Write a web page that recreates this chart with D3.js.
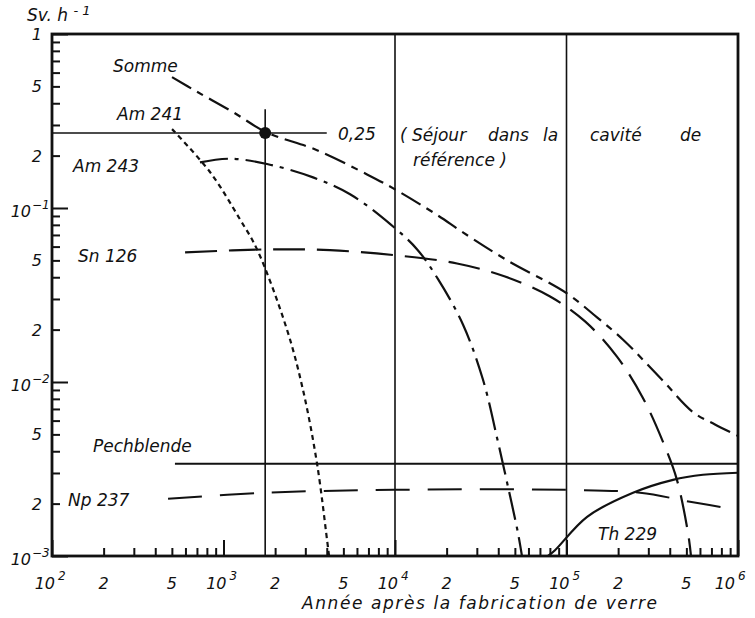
<!DOCTYPE html>
<html><head><meta charset="utf-8">
<script src="https://cdn.jsdelivr.net/npm/d3@7"></script>
<style>
body{margin:0;background:#fff}
text{font-family:"DejaVu Sans",sans-serif;font-style:italic;fill:#111}
</style>
</head><body>
<svg id="c" width="755" height="618"></svg>
<script>
// ---- data (years after glass fabrication, dose rate Sv/h) ----
const sommeYears  = [501,700,1135,1770,3510,6870,10000,17600,24900,45000,100000,150700,213800,360500,547000,734000,1000000];
const sommeValues = [0.565,0.466,0.356,0.273,0.215,0.156,0.128,0.0912,0.0724,0.0501,0.0324,0.0235,0.0175,0.0103,0.0067,0.0057,0.0049];

const am241Years  = [501,834,1248,1567,2345,2908,3510,4015,4125];
const am241Values = [0.284,0.161,0.086,0.058,0.020,0.009,0.0034,0.00124,0.001];

const am243Years  = [729,1091,1794,3327,5470,9350,13430,17820,24900,32600,39900,45600,52100,55000];
const am243Values = [0.183,0.192,0.179,0.150,0.120,0.081,0.058,0.039,0.0214,0.0103,0.0045,0.0025,0.00136,0.001];

const sn126Years  = [597,1794,4180,10280,23000,43800,80200,128300,196900,279000,375000,440500,511000,532000];
const sn126Values = [0.0556,0.0578,0.0572,0.0534,0.048,0.0404,0.031,0.0223,0.014,0.0081,0.00425,0.00274,0.00136,0.001];

const np237Years  = [475,1722,9860,100000,268500,525000,1000000];
const np237Values = [0.00213,0.00231,0.0024,0.0024,0.00231,0.00205,0.00184];

const th229Years  = [78000,85700,131900,244300,418000,625000,1000000];
const th229Values = [0.001,0.00108,0.00168,0.00231,0.00274,0.00293,0.00301];

const pechYears  = [521,1000000];
const pechValues = [0.00339,0.00339];

const refYear = 1750, refValue = 0.27, refLineEndYear = 4000, refVTop = 0.37;
const gridYears = [1e4, 1e5];

const xTickValues = [100,200,500,1000,2000,5000,1e4,2e4,5e4,1e5,2e5,5e5,1e6];
const xTickLabels = ["10^2","2","5","10^3","2","5","10^4","2","5","10^5","2","5","10^6"];
const yTickValues = [1,0.5,0.2,0.1,0.05,0.02,0.01,0.005,0.002,0.001];
const yTickLabels = ["1","5","2","10^-1","5","2","10^-2","5","2","10^-3"];

// ---- scales ----
const L=52, R=738, T=34, B=556;
const x = d3.scaleLog().domain([1e2,1e6]).range([L,R]);
const y = d3.scaleLog().domain([1e-3,1]).range([B,T]);
const svg = d3.select("#c");
const ink = "#111";

svg.append("defs").append("clipPath").attr("id","clip")
  .append("rect").attr("x",L).attr("y",T).attr("width",R-L).attr("height",B-T);

// minor / major ticks via d3 axes
const minorX=[], minorY=[];
for (let e=2;e<6;e++) for (let k=2;k<10;k++) minorX.push(k*Math.pow(10,e));
for (let e=-3;e<0;e++) for (let k=2;k<10;k++) minorY.push(k*Math.pow(10,e));
const majorX=[1e2,1e3,1e4,1e5,1e6], majorY=[1e-3,1e-2,1e-1,1];

function styleAxis(g){ g.select(".domain").remove(); g.selectAll("line").attr("stroke",ink).attr("stroke-width",2); }
svg.append("g").attr("transform",`translate(0,${B})`).call(d3.axisBottom(x).tickValues(minorX).tickSize(-8).tickFormat("")).call(styleAxis);
svg.append("g").attr("transform",`translate(0,${B})`).call(d3.axisBottom(x).tickValues(majorX).tickSize(-16).tickFormat("")).call(styleAxis);
svg.append("g").attr("transform",`translate(${L},0)`).call(d3.axisLeft(y).tickValues(minorY).tickSize(-8).tickFormat("")).call(styleAxis);
svg.append("g").attr("transform",`translate(${L},0)`).call(d3.axisLeft(y).tickValues(majorY).tickSize(-16).tickFormat("")).call(styleAxis);

// grid verticals
gridYears.forEach(v=>{
  svg.append("line").attr("x1",x(v)).attr("x2",x(v)).attr("y1",T).attr("y2",B)
    .attr("stroke",ink).attr("stroke-width",1.6);
});
// reference lines
svg.append("line").attr("x1",x(refYear)).attr("x2",x(refYear)).attr("y1",y(refVTop)).attr("y2",B)
  .attr("stroke",ink).attr("stroke-width",1.6);
svg.append("line").attr("x1",L).attr("x2",x(refLineEndYear)).attr("y1",y(refValue)).attr("y2",y(refValue))
  .attr("stroke",ink).attr("stroke-width",1.6);

// frame
svg.append("rect").attr("x",L).attr("y",T).attr("width",R-L).attr("height",B-T)
  .attr("fill","none").attr("stroke",ink).attr("stroke-width",2.8);

// curves
const line = d3.line().x(d=>x(d[0])).y(d=>y(d[1])).curve(d3.curveCatmullRom.alpha(0.5));
const series = [
  {xs:sommeYears, ys:sommeValues, dash:"22,7,7,7", w:2.2},
  {xs:am241Years, ys:am241Values, dash:"5,4", w:2.2},
  {xs:am243Years, ys:am243Values, dash:"28,7,4,7", w:2.2},
  {xs:sn126Years, ys:sn126Values, dash:"32,12", w:2.2},
  {xs:np237Years, ys:np237Values, dash:"34,18", w:2},
  {xs:th229Years, ys:th229Values, dash:null, w:2.2},
  {xs:pechYears, ys:pechValues, dash:null, w:1.8}
];
const gc = svg.append("g").attr("clip-path","url(#clip)");
series.forEach(s=>{
  const pts = s.xs.map((v,i)=>[v,s.ys[i]]);
  const p = gc.append("path").attr("d",line(pts)).attr("fill","none")
    .attr("stroke",ink).attr("stroke-width",s.w);
  if (s.dash) p.attr("stroke-dasharray",s.dash);
});

// reference dot
svg.append("circle").attr("cx",x(refYear)).attr("cy",y(refValue)).attr("r",6).attr("fill",ink);

// x tick labels
xTickValues.forEach((v,i)=>{
  const parts = xTickLabels[i].split("^");
  const px = x(v);
  if (parts.length>1){
    const shift = Math.min(0, 748 - (px + 16));
    svg.append("text").attr("x",px+3+shift).attr("y",589).attr("text-anchor","end")
      .attr("font-size",16).text(parts[0]);
    svg.append("text").attr("x",px+6+shift).attr("y",580).attr("font-size",12).text(parts[1]);
  } else {
    svg.append("text").attr("x",px).attr("y",589).attr("text-anchor","middle")
      .attr("font-size",16).text(parts[0]);
  }
});
// y tick labels
yTickValues.forEach((v,i)=>{
  const parts = yTickLabels[i].split("^");
  const py = y(v);
  if (parts.length>1){
    svg.append("text").attr("x",31).attr("y",py+9).attr("text-anchor","end")
      .attr("font-size",16).text(parts[0]);
    svg.append("text").attr("x",32).attr("y",py+1).attr("font-size",12)
      .text(parts[1].replace("-","\u2212"));
  } else {
    svg.append("text").attr("x",42).attr("y",py+6).attr("text-anchor","end")
      .attr("font-size",16).text(parts[0]);
  }
});

// axis titles
const yt = svg.append("text").attr("x",27).attr("y",21).attr("font-size",17).text("Sv. h ");
yt.append("tspan").attr("dy",-6).attr("font-size",13).text("- 1");
svg.append("text").attr("x",302).attr("y",609).attr("font-size",17)
  .attr("textLength",355).attr("lengthAdjust","spacing")
  .text("Année après la fabrication de verre");

// curve labels
const labels = [
  ["Somme",113,72],["Am 241",117,120],["Am 243",73,172],["Sn 126",78,262],
  ["Pechblende",93,452],["Np 237",68,506],["Th 229",598,540],["0,25",338,140],
  ["(",400,141],["Séjour",412,141],["dans",488,141],["la",543,141],["cavité",590,141],["de",680,141],
  ["référence )",413,166]
];
labels.forEach(d=>svg.append("text").attr("x",d[1]).attr("y",d[2]).attr("font-size",17).text(d[0]));
</script>
</body></html>
